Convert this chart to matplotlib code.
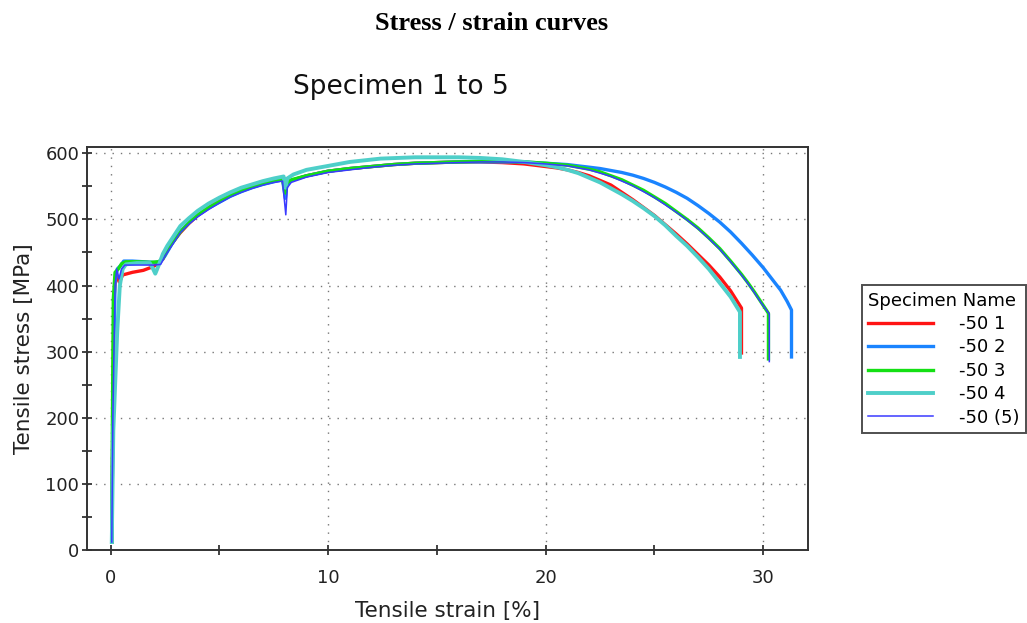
import numpy as np
import matplotlib.pyplot as plt
from matplotlib.ticker import MultipleLocator

# specimen curves, strain in % and tensile stress in MPa
names = ["-50 1", "-50 2", "-50 3", "-50 4", "-50 (5)"]

strain_1 = [0.05, 0.10, 0.15, 0.25, 0.40, 0.55, 1.0, 1.5, 1.9, 2.2, 2.4, 2.6, 2.8, 3.2, 3.6, 4.0,
            4.5, 5.0, 5.5, 6.0, 6.5, 7.0, 7.5, 7.9, 8.02, 8.1, 8.3, 9, 10, 11, 12, 13, 14, 15, 16,
            17, 18, 19, 20, 20.5, 21, 21.5, 22, 22.5, 23, 23.5, 24, 24.5, 25, 25.5, 26, 26.5, 27,
            27.5, 28, 28.5, 29.0, 29.0]
stress_1 = [12, 200, 380, 418, 405, 416, 420, 423, 428, 433, 440, 453, 463, 480, 494, 506,
            518, 528, 536, 543, 549, 554, 558, 561, 545, 555, 559, 566, 573, 577, 580, 583, 585,
            586, 587, 587, 586, 584, 580, 578, 575, 571, 566, 559, 552, 541, 530, 518, 506, 492,
            478, 463, 447, 431, 413, 392, 366, 298]

strain_2 = [0.05, 0.10, 0.20, 0.30, 0.45, 0.6, 1.0, 1.5, 2.0, 2.3, 2.5, 2.8, 3.2, 3.6, 4, 4.5, 5,
            5.5, 6, 6.5, 7, 7.5, 7.9, 8.03, 8.1, 8.3, 9, 10, 11, 12, 13, 14, 15, 16, 17, 18, 19, 20,
            21, 22, 22.5, 23, 23.5, 24, 24.5, 25, 25.5, 26, 26.5, 27, 27.5, 28, 28.5, 29, 29.5, 30,
            30.4, 30.8, 31.1, 31.3, 31.3]
stress_2 = [12, 200, 405, 425, 430, 437, 437, 436, 435, 436, 445, 462, 482, 495, 506, 517, 526,
            535, 542, 548, 553, 557, 560, 532, 553, 559, 566, 573, 577, 580, 583, 585, 586, 587, 587,
            587, 587, 585, 583, 579, 577, 574, 571, 567, 562, 556, 549, 541, 532, 521, 509, 496,
            481, 464, 446, 427, 410, 393, 376, 363, 292]

strain_3 = [0.05, 0.08, 0.12, 0.2, 0.35, 0.5, 0.7, 1.2, 1.8, 2.2, 2.4, 2.6, 2.8, 3.2, 3.6, 4,
            4.5, 5, 5.5, 6, 6.5, 7, 7.5, 7.9, 8.02, 8.1, 8.3, 9, 10, 11, 12, 13, 14, 15, 16, 17, 18,
            19, 20, 21, 21.5, 22, 22.5, 23, 23.5, 24, 24.5, 25, 25.5, 26, 26.5, 27, 27.5, 28, 28.5,
            29, 29.3, 29.6, 29.9, 30.24, 30.24]
stress_3 = [12, 200, 380, 420, 425, 433, 436, 436, 435, 436, 441, 453, 463, 481, 495, 507,
            518, 527, 536, 543, 549, 554, 558, 561, 540, 555, 560, 566, 573, 577, 580, 583, 585, 586,
            587, 588, 588, 587, 585, 582, 579, 576, 572, 566, 560, 552, 544, 534, 524, 512, 500,
            487, 472, 456, 437, 417, 404, 390, 375, 358, 289]

strain_4 = [0.05, 0.12, 0.3, 0.42, 0.55, 0.7, 1.2, 1.8, 1.95, 2.05, 2.2, 2.4, 2.6, 2.8, 3.2, 3.6,
            4, 4.5, 5, 5.5, 6, 6.5, 7, 7.5, 7.95, 8.03, 8.12, 8.4, 9, 10, 11, 12.4, 14, 16, 17, 18,
            19, 20, 20.5, 21, 21.5, 22, 22.5, 23, 23.5, 24, 24.5, 25, 25.5, 26, 26.5, 27, 27.5, 28,
            28.5, 28.93, 28.93]
stress_4 = [12, 180, 330, 400, 425, 432, 434, 434, 425, 418, 430, 448, 460, 470, 490, 502,
            513, 524, 533, 541, 548, 553, 558, 562, 565, 548, 562, 568, 575, 581, 587, 592, 594, 594,
            593, 591, 587, 582, 579, 575, 570, 563, 556, 547, 538, 528, 517, 505, 491, 475, 460,
            443, 425, 404, 383, 360, 292]

strain_5 = [0.05, 0.1, 0.2, 0.28, 0.38, 0.5, 0.65, 1.0, 1.5, 2.0, 2.3, 2.5, 2.8, 3.2, 3.6, 4, 4.5,
            5, 5.5, 6, 6.5, 7, 7.5, 7.9, 8.05, 8.12, 8.3, 9, 10, 11, 12, 13, 14, 15, 16, 17, 18, 19,
            20, 21, 21.5, 22, 22.5, 23, 23.5, 24, 24.5, 25, 25.5, 26, 26.5, 27, 27.5, 28, 28.5, 29,
            29.3, 29.6, 29.9, 30.28, 30.28]
stress_5 = [12, 200, 400, 425, 410, 425, 431, 431, 431, 431, 432, 445, 460, 480, 493, 504, 515,
            525, 534, 541, 547, 552, 556, 558, 507, 548, 556, 564, 571, 575, 579, 582, 584, 585, 586,
            587, 587, 586, 584, 581, 578, 575, 570, 565, 558, 551, 542, 533, 522, 511, 499, 486,
            471, 455, 436, 416, 403, 389, 374, 357, 285]

strains = [strain_1, strain_2, strain_3, strain_4, strain_5]
stresses = [stress_1, stress_2, stress_3, stress_4, stress_5]
colors = ["#ff1414", "#1a84ff", "#14e014", "#4ecfc9", "#3a3aff"]
widths = [2.4, 2.4, 2.4, 2.8, 1.1]

fig = plt.figure(figsize=(10.27, 6.23), dpi=100)
ax = fig.add_axes([0.0847, 0.1172, 0.7023, 0.6473])

for x, y, c, w, name in zip(strains, stresses, colors, widths, names):
    ax.plot(x, y, color=c, lw=w, label=name, solid_joinstyle="round")

ax.set_xlim(-1.09, 32.07)
ax.set_ylim(0, 610)
ax.xaxis.set_major_locator(MultipleLocator(10))
ax.xaxis.set_minor_locator(MultipleLocator(5))
ax.yaxis.set_major_locator(MultipleLocator(100))
ax.yaxis.set_minor_locator(MultipleLocator(50))
ax.grid(True, which="major", linestyle=(0, (1, 5)), color="#777777", lw=1.0)

for sp in ax.spines.values():
    sp.set_color("#333333")
    sp.set_linewidth(1.4)
ax.tick_params(which="both", direction="inout", length=7, width=1.3, color="#333333",
               labelsize=13, labelcolor="#222222")
ax.tick_params(axis="x", pad=10)
ax.tick_params(axis="y", pad=2)

ax.set_xlabel("Tensile strain [%]", fontsize=15.5, color="#222222", labelpad=10)
ax.set_ylabel("Tensile stress [MPa]", fontsize=15.5, color="#222222", labelpad=8)

fig.text(0.479, 0.963, "Stress / strain curves", ha="center", va="center",
         family="Liberation Serif", weight="bold", fontsize=19)
fig.text(0.390, 0.860, "Specimen 1 to 5", ha="center", va="center", fontsize=19, color="#111111")

leg = ax.legend(title="Specimen Name", loc="upper left", bbox_to_anchor=(0.8395, 0.542),
                bbox_transform=fig.transFigure, fontsize=13, title_fontsize=13,
                alignment="left", frameon=True, fancybox=False, edgecolor="#222222",
                handlelength=3.6, handletextpad=1.4, labelspacing=0.3, borderpad=0.35,
                borderaxespad=0)
leg.get_frame().set_linewidth(1.4)

fig.savefig("out.png", dpi=100)
